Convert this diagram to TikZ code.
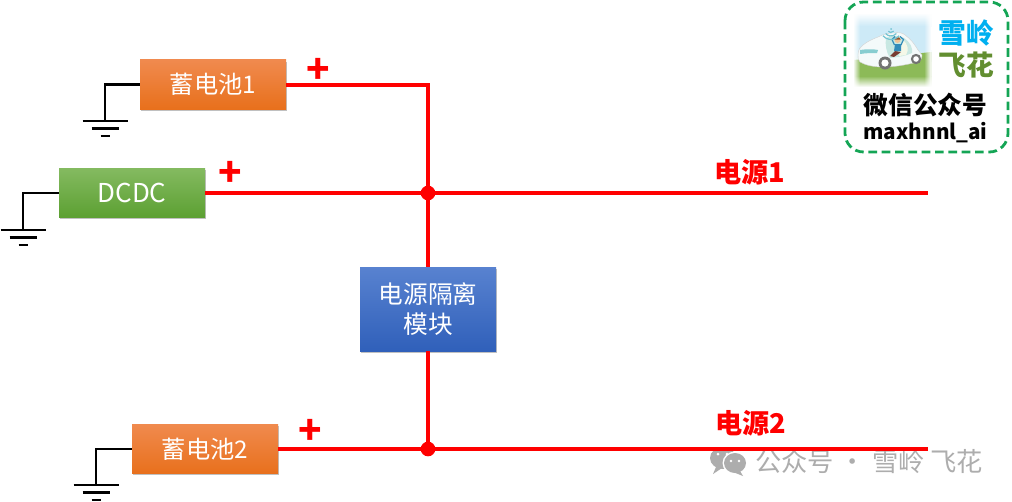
\documentclass[tikz,border=0pt]{standalone}
\usepackage{fontspec}
\setmainfont{Noto Sans CJK SC}
\usetikzlibrary{shadows,calc,fadings}
\definecolor{wire}{RGB}{255,0,0}
\definecolor{logogreen}{RGB}{20,165,85}
\definecolor{orangetop}{RGB}{240,138,78}
\definecolor{orangebot}{RGB}{232,112,28}
\definecolor{greentop}{RGB}{132,186,96}
\definecolor{greenbot}{RGB}{92,160,50}
\definecolor{bluetop}{RGB}{88,130,208}
\definecolor{bluebot}{RGB}{48,96,186}
\definecolor{sky}{RGB}{205,234,247}
\definecolor{skylow}{RGB}{222,240,235}
\definecolor{grass}{RGB}{140,186,88}
\definecolor{carbody}{RGB}{244,250,250}
\definecolor{carstripe}{RGB}{135,205,208}
\definecolor{carglass}{RGB}{200,232,226}
\definecolor{carseat}{RGB}{244,248,232}
\definecolor{legs}{RGB}{120,60,50}
\definecolor{shirt}{RGB}{50,140,185}
\definecolor{skin}{RGB}{240,195,150}
\definecolor{hair}{RGB}{150,80,40}
\definecolor{wifi}{RGB}{115,195,210}
\definecolor{logoblue}{RGB}{0,176,240}
\definecolor{logoleaf}{RGB}{98,142,48}
\tikzset{
  x=0.75pt,y=-0.75pt,
  blockbox/.style={minimum width=109.5pt,minimum height=37pt,inner sep=0pt,align=center,text=white,
     font=\fontsize{18.2}{22}\selectfont,
     drop shadow={shadow xshift=0.8pt,shadow yshift=-1.3pt,opacity=0.35,fill=black!70}},
  orangebox/.style={blockbox,top color=orangetop,bottom color=orangebot},
  greenbox/.style={blockbox,top color=greentop,bottom color=greenbot,
     font=\fontsize{19.5}{22}\selectfont},
  bluebox/.style={blockbox,minimum width=102pt,minimum height=63pt,
     top color=bluetop,bottom color=bluebot,
     font=\fontsize{18.5}{22}\selectfont},
  wireline/.style={draw=wire,line width=3pt},
  gndline/.style={draw=black,line width=2.1pt},
  junction/.style={circle,fill=wire,inner sep=0pt,minimum size=11pt},
  plussign/.style={text=wire,font=\fontsize{29}{29}\selectfont\bfseries,inner sep=0pt},
  rail/.style={text=wire,font=\fontsize{20.4}{22}\selectfont\bfseries,inner sep=0pt},
  watermark/.style={text=black!32,font=\fontsize{19.7}{22}\selectfont,inner sep=0pt},
}
\begin{document}
\begin{tikzpicture}
\useasboundingbox (0,0) rectangle (1012,501);
\fill[white] (0,0) rectangle (1012,501);

% blocks
\node[orangebox] (bat1) at (213,84.5) {蓄电池1};
\node[greenbox] (dcdc) at (132,193) {DCDC};
\node[bluebox] (iso) at (428,309) {电源隔离\\模块};
\node[orangebox] (bat2) at (205,449) {蓄电池2};

% junctions and free ends
\node[junction] (j1) at (428,193) {};
\node[junction] (j2) at (428,449) {};
\coordinate (out1) at (928,193);
\coordinate (out2) at (928,449);

% watermark
\fill[black!32] (723,458) ellipse (13 and 11);
\fill[black!32] (716,467) -- (713,474) -- (722,468) -- cycle;
\fill[white] (735,463) ellipse (12.5 and 11.5);
\fill[black!32] (735,463) ellipse (11 and 10);
\fill[black!32] (740,471) -- (743,476) -- (733,472) -- cycle;
\foreach \p in {(718,454),(727,454)}{\fill[white] \p circle (1.5);}
\foreach \p in {(731,461),(739,461)}{\fill[white] \p circle (1.3);}
\node[watermark,anchor=west] (wm) at (755,461) {公众号 · 雪岭 飞花};

% power wires
\draw[wireline] (bat1.east) -| (j1.center);
\draw[wireline] (dcdc.east) -- (j1.center);
\draw[wireline] (j1.center) -- (out1);
\draw[wireline] (j1.center) -- (iso.north);
\draw[wireline] (iso.south) -- (j2.center);
\draw[wireline] (bat2.east) -- (j2.center);
\draw[wireline] (j2.center) -- (out2);

% grounds
\coordinate (g1) at (105,121);
\coordinate (g2) at (23,230);
\coordinate (g3) at (96,485);
\foreach \g/\b in {g1/bat1,g2/dcdc,g3/bat2}{
  \draw[gndline] (\b.west) -| (\g);
  \draw[gndline] ($(\g)+(-22.5,0)$) -- ($(\g)+(22.5,0)$);
  \draw[gndline] ($(\g)+(-13.5,7.5)$) -- ($(\g)+(13.5,7.5)$);
  \draw[gndline] ($(\g)+(-4.5,15)$) -- ($(\g)+(4.5,15)$);
}

% labels
\node[plussign] (p1) at (318.5,70.5) {+};
\node[plussign] (p2) at (230,174) {+};
\node[plussign] (p3) at (310,432) {+};
\node[rail] (r1) at (750,172) {电源1};
\node[rail] (r2) at (751,423) {电源2};

% logo
\draw[draw=logogreen,line width=2.1pt,dash pattern=on 6.5pt off 3.5pt,rounded corners=14pt] (845,2) rectangle (1008,152);
% logo picture: sky and grass
\shade[top color=white,bottom color=sky] (853,13) rectangle (931,26);
\fill[sky] (853,26) rectangle (931,50);
\shade[top color=sky,bottom color=skylow] (853,50) rectangle (931,61);
\fill[grass] (853,60) .. controls (875,58) and (905,55) .. (931,52) -- (931,76) -- (853,76) -- cycle;
\shade[top color=grass,bottom color=white] (853,76) rectangle (931,87);
\fill[white,path fading=east] (853,13) rectangle (860,87);
\fill[white,path fading=west] (924,13) rectangle (931,87);
% car body
\fill[carbody,draw=black!18,line width=.3pt] (858,55) .. controls (858,50) and (860,47) .. (863,45) .. controls (868,41) and (873,39) .. (878,37) .. controls (884,34) and (888,33) .. (893,33) .. controls (899,32) and (903,33) .. (905,35) .. controls (911,39) and (915,45) .. (918,50) -- (922,55) .. controls (922,59) and (920,61) .. (918,62) .. controls (905,65) and (895,67) .. (883,67) .. controls (873,67) and (865,65) .. (860,62) .. controls (858,60) and (858,58) .. (858,55) -- cycle;
\fill[carstripe] (860,50) .. controls (866,49) and (874,49) .. (878,50) -- (877,53) .. controls (872,53) and (866,53) .. (860,54) -- cycle;
\fill[carglass] (886,38) .. controls (891,35) and (898,35) .. (904,38) .. controls (910,42) and (913,48) .. (912,53) .. controls (906,56) and (898,57) .. (890,58) .. controls (886,52) and (885,44) .. (886,38) -- cycle;
% driver
\fill[carseat] (903,40) .. controls (908,44) and (909,50) .. (906,55) -- (899,56) -- cycle;
\fill[legs] (890,56) -- (895,51) -- (901,52) -- (894,57) -- cycle;
\fill[shirt] (894,51) -- (895,44) -- (901,44) -- (901,51) -- cycle;
\draw[shirt,line width=.9pt] (894.5,45) -- (892,39.5) -- (895,36.5);
\draw[shirt,line width=.9pt] (901,45) -- (903.5,39.5) -- (900,36.5);
\fill[skin] (897.5,40) circle (3);
\fill[hair] (894.5,39.5) arc (180:360:3 and 2.4) -- cycle;
% wheels
\fill[black!55] (885,63) circle (6.5);
\fill[white] (885,63) circle (3.6);
\fill[black!55] (916,59) circle (5.2);
\fill[white] (916,59) circle (2.8);
% wifi
\foreach \r in {3.5,7,10.5}{\draw[wifi,line width=.9pt] ($(891,29)+(40:\r)$) arc (40:140:\r);}
\fill[wifi] (891,29) circle (1);

\node[inner sep=0pt,text=logoblue,font=\fontsize{20.7}{22}\selectfont\bfseries] (lg1) at (966,33) {雪岭};
\node[inner sep=0pt,text=logoleaf,font=\fontsize{20.7}{22}\selectfont\bfseries] (lg2) at (966,65) {飞花};
\node[inner sep=0pt,text=black,font=\fontsize{18.5}{20}\selectfont\bfseries] (lg3) at (925.5,105.5) {微信公众号};
\node[inner sep=0pt,text=black,font=\fontsize{15.5}{18}\selectfont\bfseries] (lg4) at (925.5,133) {maxhnnl\_ai};
\end{tikzpicture}
\end{document}
